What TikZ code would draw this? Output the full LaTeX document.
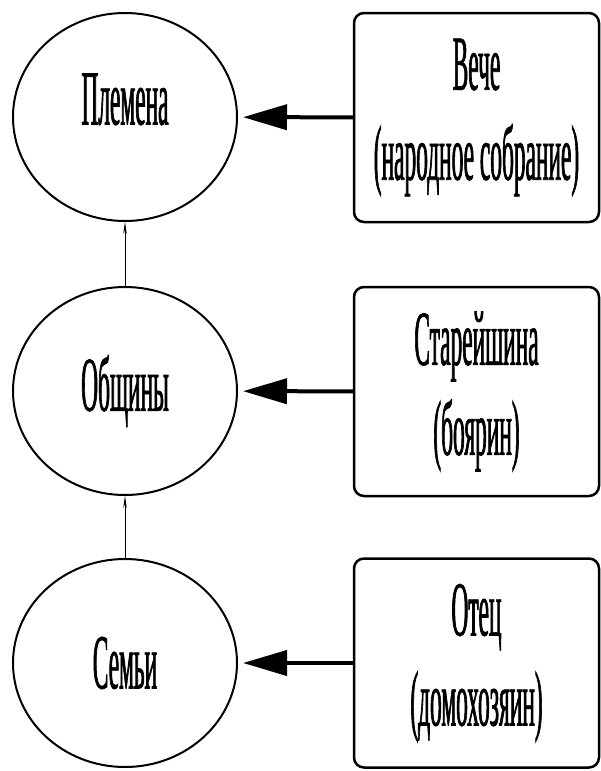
\documentclass[tikz,border=0pt]{standalone}
\usepackage{fontspec}
\setmainfont{Liberation Serif}[FakeStretch=0.3,FakeBold=0.8]
\usetikzlibrary{shapes.geometric,arrows.meta}

\begin{document}
\begin{tikzpicture}[x=1pt,y=-1pt,
  krug/.style={draw, ellipse, line width=2pt, minimum width=224pt, minimum height=208pt, inner sep=0pt, font=\fontsize{78}{90}\selectfont},
  ramka/.style={draw, rounded corners=10pt, line width=2.5pt, minimum width=245pt, minimum height=209pt, inner sep=0pt, align=center, font=\fontsize{78}{90}\selectfont},
  strelka/.style={line width=4pt, -{Triangle[length=44pt,width=25pt]}, shorten >=5pt},
  tonkaya/.style={line width=0.8pt, -{Stealth[length=12pt,width=3.5pt]}}]

\useasboundingbox (0,0) rectangle (601,771);

% levo: obshchestvo
\node[krug, text depth=36pt] (plemena) at (125,117) {Племена};
\node[krug] (obshchiny) at (125,391) {Общины};
\node[krug] (semi) at (125,663) {Семьи};

\draw[tonkaya] (obshchiny) -- (plemena);
\draw[tonkaya] (semi) -- (obshchiny);

% pravo: vlast
\node[ramka] (veche) at (476.5,117.5) {Вече\\(народное собрание)};
\node[ramka] (starejshina) at (476.5,391.5) {Старейшина\\(боярин)};
\node[ramka] (otec) at (476.5,663) {Отец\\(домохозяин)};

\draw[strelka] (veche) -- (plemena);
\draw[strelka] (starejshina) -- (obshchiny);
\draw[strelka] (otec) -- (semi);

\end{tikzpicture}
\end{document}
